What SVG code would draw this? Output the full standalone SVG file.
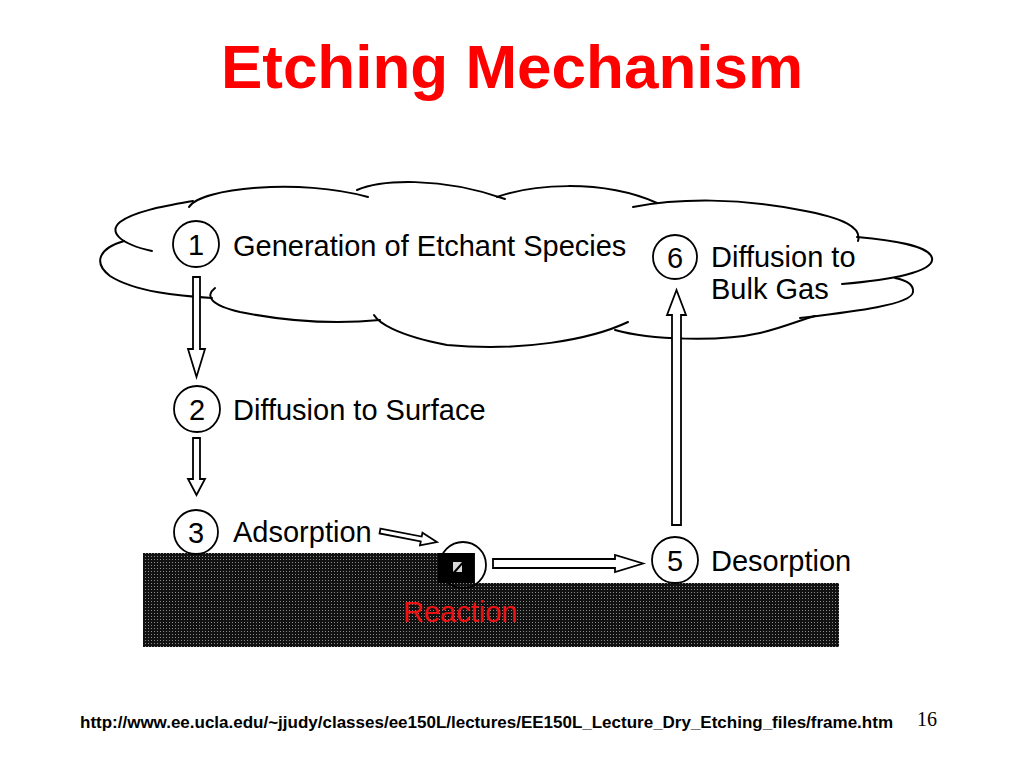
<svg xmlns="http://www.w3.org/2000/svg" width="1024" height="768" viewBox="0 0 1024 768">
<style>
.lobe{fill:none;stroke:#000;stroke-width:2;stroke-linecap:round}
.circ{fill:none;stroke:#000;stroke-width:1.8}
.num{font-family:"Liberation Sans",Arial,sans-serif;font-size:29px;fill:#000;text-anchor:middle}
.lbl{font-family:"Liberation Sans",Arial,sans-serif;font-size:29px;fill:#000}
.arr{fill:#fff;stroke:#000;stroke-width:1.8;stroke-linejoin:miter}
</style>
<defs>
<pattern id="dots" width="3" height="3" patternUnits="userSpaceOnUse">
<rect width="3" height="3" fill="#111"/>
<rect x="1" y="1" width="1" height="1" fill="#8a8a8a"/>
</pattern>
</defs>
<rect width="1024" height="768" fill="#fff"/>
<text x="512" y="88" font-family="Liberation Sans, Arial, sans-serif" font-size="62" font-weight="bold" fill="#ff0000" text-anchor="middle">Etching Mechanism</text>

<g id="cloud">
<path class="lobe" d="M152,251 C120,244 108,232 120,222 C135,211 165,206 193,201"/>
<path class="lobe" d="M124,241 C100,248 92,262 110,276 C135,292 180,296 212,298"/>
<path class="lobe" d="M215,288 C205,296 210,305 240,312 C290,322 340,324 380,320"/>
<path class="lobe" d="M374,315 C378,322 395,335 447,345 C520,352 590,340 628,322"/>
<path class="lobe" d="M615,330 C650,340 720,342 760,333 C785,327 800,320 815,316"/>
<path class="lobe" d="M800,318 C850,312 912,305 913,292 C914,284 905,280 895,278"/>
<path class="lobe" d="M842,284 C890,280 935,272 932,258 C929,245 890,240 857,237"/>
<path class="lobe" d="M858,241 C862,228 845,218 800,210 C740,198 680,198 633,207"/>
<path class="lobe" d="M497,197 C530,185 600,178 657,203"/>
<path class="lobe" d="M357,190 C380,180 440,176 505,199"/>
<path class="lobe" d="M189,207 C200,188 300,178 368,197"/>
</g>

<g id="substrate">
<path d="M143,553 H475 V583 H839 V647 H143 Z" fill="url(#dots)"/>
</g>

<g id="connectors">
<polygon class="arr" points="193,277 200,277 200,349 205,349 196.5,377 188,349 193,349"/>
<polygon class="arr" points="193,438 200,438 200,479 205,479 196.5,495 188,479 193,479"/>
<polygon class="arr" points="672,525 681,525 681,315 686,315 676.5,290 667,315 672,315"/>
<polygon class="arr" points="493,559 615,559 615,555 643,563.5 615,572 615,568 493,568"/>
<polygon class="arr" transform="translate(380,531) rotate(11)" points="0,-2.5 42,-2.5 42,-6.5 58,0 42,6.5 42,2.5 0,2.5"/>
</g>

<g id="n1">
<circle class="circ" cx="196" cy="244" r="23"/>
<text class="num" x="196" y="255">1</text>
<text class="lbl" x="233" y="256">Generation of Etchant Species</text>
</g>
<g id="n2">
<circle class="circ" cx="197" cy="409" r="23"/>
<text class="num" x="197" y="420">2</text>
<text class="lbl" x="233" y="420">Diffusion to Surface</text>
</g>
<g id="n3">
<circle class="circ" cx="196" cy="532" r="22"/>
<text class="num" x="196" y="543">3</text>
<text class="lbl" x="233" y="542">Adsorption</text>
</g>
<g id="n4">
<circle class="circ" cx="463" cy="565" r="23"/>
<rect x="438" y="553" width="36" height="30" fill="#000"/>
<rect x="453" y="562" width="9" height="10" fill="#d8d8d8"/>
<polygon points="453,572 462,562 462,565 456,572" fill="#000"/>
<text x="403" y="622" font-family="Liberation Sans, Arial, sans-serif" font-size="29" fill="#ee1111">Reaction</text>
</g>
<g id="n5">
<circle class="circ" cx="675" cy="560" r="23"/>
<text class="num" x="675" y="571">5</text>
<text class="lbl" x="711" y="571">Desorption</text>
</g>
<g id="n6">
<circle class="circ" cx="675" cy="257" r="22"/>
<text class="num" x="675" y="268">6</text>
<text class="lbl" x="711" y="267">Diffusion to</text>
<text class="lbl" x="711" y="299">Bulk Gas</text>
</g>

<text x="80" y="728" font-family="Liberation Sans, Arial, sans-serif" font-size="16" font-weight="bold" fill="#000" textLength="813" lengthAdjust="spacingAndGlyphs">http://www.ee.ucla.edu/~jjudy/classes/ee150L/lectures/EE150L_Lecture_Dry_Etching_files/frame.htm</text>
<text x="917" y="726" font-family="Liberation Serif, Times New Roman, serif" font-size="20" fill="#000">16</text>
</svg>
